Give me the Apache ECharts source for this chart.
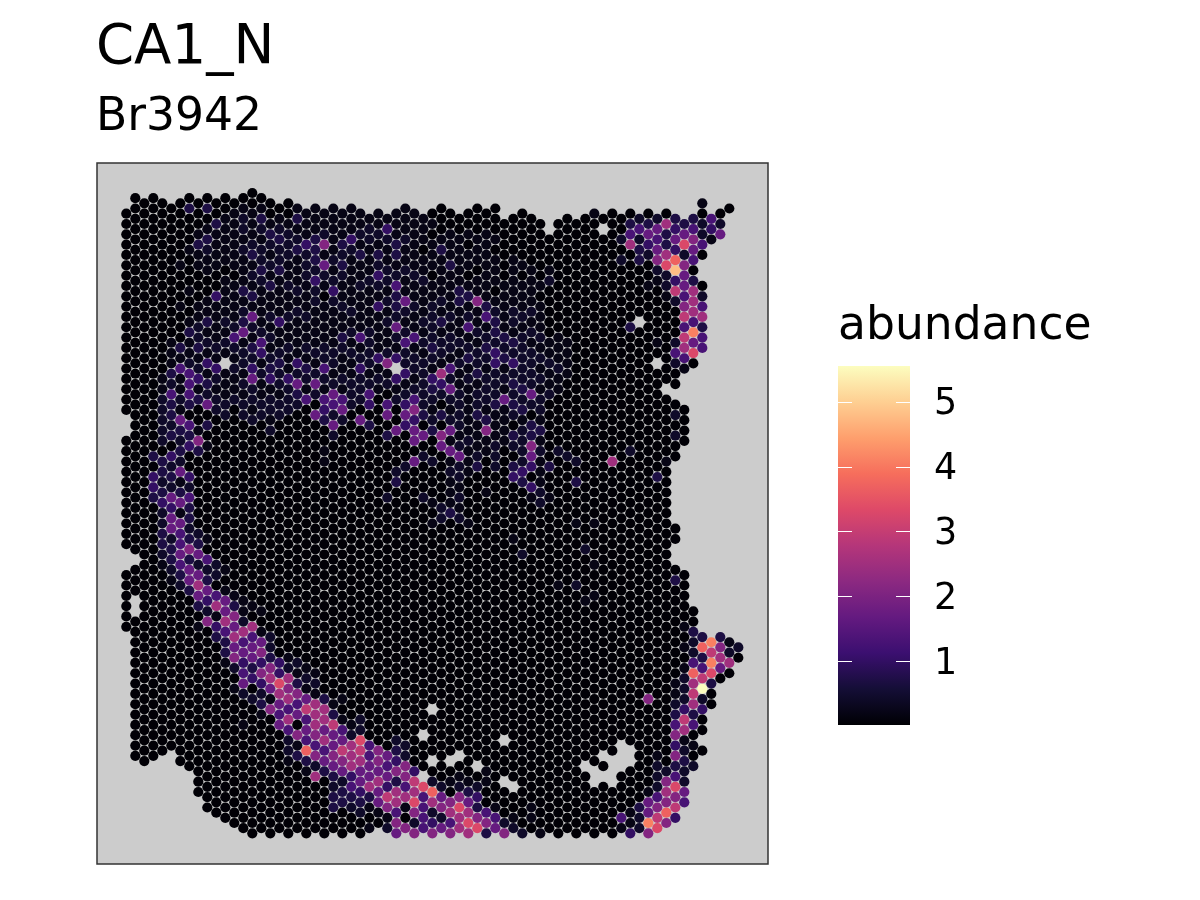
<!DOCTYPE html>
<html><head><meta charset="utf-8">
<style>html,body{margin:0;padding:0;background:#fff}#c{width:1200px;height:900px}</style>
<script src="https://cdn.jsdelivr.net/npm/echarts@6/dist/echarts.min.js"></script></head>
<body><div id="c"></div>
<script>
const titleText = "CA1_N";
const subtitleText = "Br3942";
const legendTitle = "abundance";
const legendTicks = [1,2,3,4,5];
const legendMin = 0.012, legendMax = 5.556;
const magma = ["#000004","#140e36","#3b0f70","#641a80","#8c2981","#b5367a","#de4968","#f66e5c","#fe9f6d","#fecf92","#fcfdbf"];

// abundance represented by each reading level (char in the spot tables below)
const levelValues = {0:0.03,1:0.2,2:0.42,3:0.7,4:1.0,5:1.3,6:1.7,7:2.1,8:2.5,9:2.9,a:3.3,b:3.7,c:4.1,d:4.8,e:5.55};

// spots present in each lattice column: [first,last] runs of lattice rows
const columnRuns = [
[[4,42],[48,68],[74,84]],[[1,69],[73,77],[83,109]],[[2,110]],[[1,109]],[[2,108]],[[3,107]],[[2,110]],[[1,111]],[[2,116]],[[1,119]],
[[2,120]],[[1,121]],[[2,122]],[[1,123]],[[0,124]],[[1,123]],[[2,124]],[[3,123]],[[2,124]],[[3,123]],
[[4,124]],[[3,123]],[[4,124]],[[3,123]],[[4,124]],[[3,123]],[[4,124]],[[5,123]],[[4,122]],[[5,123]],
[[4,124]],[[3,123]],[[4,124]],[[5,123]],[[4,124]],[[3,123]],[[4,124]],[[5,123]],[[4,124]],[[3,123]],
[[4,124]],[[3,123]],[[6,124]],[[5,123]],[[4,124]],[[5,123]],[[6,124]],[[9,123]],[[6,124]],[[5,123]],
[[6,124]],[[5,123]],[[4,124]],[[5,123]],[[4,124]],[[5,123]],[[4,124]],[[5,123]],[[4,124]],[[5,123]],
[[4,36],[40,122]],[[5,37],[41,51],[65,67],[73,121]],[[6,34],[42,48],[74,118]],[[5,33],[81,111]],
[[2,12],[18,30],[86,104],[108,108]],[[5,9],[87,99]],[[4,8],[86,94]],[[3,3],[87,93]],[[88,90]]
];
const missingSpots = [[11,33],[30,34],[53,7],[57,25],[59,33],[34,100],[33,105],[34,110],[33,113],[42,106],[37,109],[36,110],[39,111],[42,114],[43,115],[51,111],[52,112],[52,114],[53,109],[53,113],[54,110],[54,112],[54,114],[55,107],[55,109],[55,111],[56,108],[56,110]];

// faint readings: [column, first row, one level char per spot going down the column]
const faintColumns = [
[4,36,"11112"],[5,27,"0111121211"],[6,2,"0000001000100001111211212"],[7,3,"10001000100111122212"],
[8,2,"00011110001112112212"],[9,3,"10112110011212121121"],[10,2,"000111100111112112122"],[11,1,"0011111011112121211122"],
[12,2,"01111110111121212112"],[13,1,"0112121112121112212122"],[14,0,"00111221211112112222212"],[15,1,"0112122121111212121122"],
[16,2,"00112121211212121112212"],[17,3,"012222111112112122122"],[18,2,"001122112112112112222"],[19,3,"12122111212111112122"],
[20,4,"1112212111211212212"],[21,3,"1112122122111121212"],[22,4,"112111210111122221"],[23,3,"1111121212111122122"],
[24,4,"1112212112111211212"],[25,3,"11122111112121211222"],[26,4,"1121111211112121222"],[27,5,"112111211112222122"],
[28,4,"112112121211112121"],[29,5,"11211211212112112"],[30,4,"1112112121212111212"],[31,3,"1112112111212121212"],
[32,4,"1111112112112122122"],[33,5,"1110112111212122222"],[34,4,"010111011222122121212"],[35,3,"0001211112121221222"],
[36,4,"00111211112122112122"],[37,5,"0011111121112121122"],[38,4,"00101101111112212112"],[39,3,"00011101111121222122"],
[40,4,"0011111112112121222"],[41,3,"00010111012122222222"],[42,6,"0000001111112212122"],[43,5,"00001111122122212212"],
[44,4,"00000101112122222122"],[45,5,"0000011112121222222"],[46,6,"0000001011121212122"],[47,9,"0001000000112112"],
[48,26,"0111211"],[49,29,"1111"],[43,44,"2211212111"],[44,44,"1212211"],[45,44,"1121111"],[46,44,"11111112"],
[36,42,"1211212111"],[37,43,"2211112121"],[38,42,"1111111"],[39,43,"11111"],[40,42,"11211"],[41,43,"1112"],[42,42,"1111"]
];

const topLeftSpots = "7,3,3 9,3,3 10,6,3 15,5,3 13,5,2 19,5,3 29,7,4 27,7,2 22,10,7 20,10,4 24,10,3 25,9,4 26,12,3 28,12,3 30,10,3 30,12,3 14,12,3 8,10,3 9,9,3 16,8,3 17,9,3 18,8,2 21,9,3 19,11,3 21,11,3 21,13,3 22,14,6 20,14,2 24,14,3 15,15,3 17,15,3 28,16,4 21,17,4 16,18,3 29,17,2 30,18,5 23,19,4 10,20,4 13,19,3 14,20,3 30,20,3 31,21,6 28,22,4 30,22,3 14,24,6 13,25,3 17,25,4 9,25,3 30,26,6 13,27,6 12,28,5 15,29,5 32,28,5 31,29,5 26,28,5 24,28,3 7,27,3 8,26,2 6,30,3 8,30,3 14,30,3 15,31,4 9,33,4 6,34,5 10,34,4 7,35,5 5,35,3 14,34,4 8,36,4 7,37,5 9,37,3 14,36,6 16,36,4 16,34,3 17,33,3 19,33,4 20,34,3 22,34,5 18,36,4 19,37,6 21,37,6 20,40,5 23,39,6 22,40,5 24,40,5 24,42,6 26,34,4 28,32,4 29,33,7 30,32,4 30,36,4 31,35,4 31,33,2 34,36,4 26,39,4 27,39,5 27,41,4 29,41,5 32,40,5 32,42,7 31,41,4 29,43,6 31,43,6 5,39,5 7,39,5 9,41,6 8,40,3 5,41,3 4,40,2 7,41,3 6,41,3 23,41,5 21,43,6 22,42,4 19,39,3".split(" ");
const topMiddleSpots = "35,11,3 36,14,3 37,19,3 38,20,3 37,21,3 39,21,7 40,22,3 40,24,5 38,24,2 41,25,3 35,25,3 38,26,5 41,27,3 42,28,3 40,30,3 41,31,4 43,29,3 43,33,4 41,33,4 42,32,3 38,32,3 36,34,5 35,35,8 34,36,4 35,37,4 36,38,6 39,35,3 42,40,6 45,39,6 44,38,3 43,35,2 43,37,3 41,41,3 43,41,3 44,42,3 39,43,3 34,28,2 34,30,3 35,31,2 34,38,3 46,36,2 47,17,2 45,31,2 45,33,2".split(" ");
const topRightSpots = "56,6,3 56,8,5 56,10,8 55,9,2 55,13,2 57,5,2 57,7,5 57,9,2 57,11,3 57,13,3 58,6,3 58,8,6 58,10,4 58,12,2 59,5,2 59,7,6 59,9,5 59,11,6 59,13,7 59,15,2 60,6,8 60,8,3 60,10,3 60,12,8 60,14,a 60,16,2 60,18,2 61,5,3 61,7,4 61,9,6 61,11,4 61,13,b 61,15,d 61,17,4 61,19,9 61,21,2 62,6,3 62,8,6 62,10,a 62,12,2 62,14,7 62,16,6 62,18,6 62,20,5 62,22,7 62,24,9 62,26,5 62,28,9 62,30,8 62,32,5 62,34,1 61,29,2 61,31,5 61,33,2 63,5,3 63,7,5 63,9,7 63,11,6 63,13,5 63,17,3 63,19,8 63,21,8 63,23,8 63,25,5 63,27,c 63,29,6 63,31,a 64,2,1 64,6,2 64,8,2 64,10,5 64,20,2 64,22,5 64,24,8 64,26,3 64,28,5 64,30,5 65,5,5 65,7,4 65,9,1 66,6,2 66,8,6 60,20,1 59,17,1 58,18,1 56,26,3 59,29,1 52,4,1".split(" ");
const leftArcSpots = "4,42,2 5,43,3 6,44,6 7,45,5 6,46,3 7,47,3 8,48,7 9,45,3 8,46,1 5,45,2 4,46,2 4,48,2 5,47,3 6,48,2 7,49,4 6,50,3 8,50,3 9,49,1 5,51,4 3,51,3 4,52,3 6,52,2 5,53,2 6,54,6 4,54,3 3,55,4 5,55,3 7,55,4 4,56,2 6,56,1 3,57,4 5,57,2 7,57,2 4,58,3 6,58,3 3,59,3 5,59,6 7,59,5 4,60,4 6,60,6 5,61,4 7,61,3 4,62,2 6,62,1 5,63,6 7,63,3 4,64,2 6,64,6 5,65,6 7,65,2 4,66,3 6,66,5 8,66,2 5,67,2 7,67,3 9,67,1 4,68,3 6,68,5 8,68,3 5,69,3 7,69,7 4,70,2 6,70,6 8,70,6 9,71,5 5,71,3 7,71,3 4,72,1 6,72,5 8,72,2 10,72,2 5,73,2 7,73,6 9,73,2 11,73,1 6,74,3 8,74,6 10,74,2 5,75,1 7,75,6 9,75,3 8,76,8 6,76,2 7,77,3 9,77,6 11,77,1 8,78,6 10,78,5 12,78,1 9,79,4 11,79,6 13,79,1 8,80,3 10,80,8 12,80,3 14,80,1 9,81,2 11,81,6 13,81,1 15,81,1 9,83,7 10,82,1 12,82,7 11,83,8 13,83,2 8,84,1 10,84,4 12,84,6 14,84,8".split(" ");
const midBandSpots = "21,43,6 22,44,3 23,45,6 24,42,6 23,43,2 23,47,2 24,44,2 26,44,6 27,45,3 29,43,6 30,46,6 29,47,3 31,45,4 32,44,4 32,42,7 31,43,6 33,43,3 32,46,6 33,47,6 32,48,6 34,46,3 35,47,7 35,49,6 34,52,2 33,51,2 32,52,6 31,53,2 30,54,2 30,56,3 29,59,2 33,59,2 34,60,1 34,64,1 22,50,1 22,52,1 35,43,3 36,44,2 36,46,6 36,50,6 37,51,6 37,49,2 38,48,2 39,51,2 40,46,7 40,44,3 39,43,3 37,53,2 39,53,3 41,51,2 41,53,2 43,47,3 44,48,2 45,45,3 45,47,3 46,46,3 45,49,7 45,51,6 43,49,2 46,50,2 43,53,3 45,53,4 44,54,4 43,55,4 44,56,3 45,57,4 47,53,3 48,50,2 49,51,2 50,52,2 50,56,3 54,52,8 56,50,2 59,55,3 61,43,2 61,47,2 60,52,1 35,61,2 36,62,3 37,63,2 35,63,2 38,64,1 37,59,2 46,60,2 47,59,1 45,59,1 40,58,1 51,69,2 44,70,2 43,67,1 52,64,1 50,64,1 48,76,1 50,76,2 51,79,1 52,72,1 52,78,1 61,75,3 62,84,1".split(" ");
const lowerBandSpots = "12,86,8 13,85,8 14,86,5 15,85,1 16,86,2 11,85,5 10,86,3 11,87,3 12,88,6 13,87,5 14,88,6 15,87,6 16,88,2 11,89,3 12,90,7 13,89,6 14,90,6 15,89,7 16,90,3 17,91,4 15,91,4 13,91,4 18,92,2 19,91,2 12,92,2 14,92,3 16,92,7 13,93,5 15,93,7 17,93,4 19,93,1 20,92,1 21,93,1 14,94,4 16,94,8 18,94,8 20,94,2 13,95,6 15,95,4 17,95,a 19,95,3 21,95,2 12,96,1 16,96,6 18,96,7 20,96,1 13,97,2 15,97,2 17,97,8 19,97,7 21,97,1 14,98,2 16,98,1 18,98,8 20,98,6 22,98,3 15,99,3 17,99,6 19,99,5 21,99,8 23,99,1 16,100,7 18,100,5 20,100,9 22,100,8 24,98,1 15,101,1 17,101,5 19,101,6 21,101,8 23,101,3 24,102,1 26,102,2 18,102,8 20,102,5 22,102,8 17,103,6 19,103,0 21,103,8 23,103,9 25,103,1 13,103,1 26,104,2 18,104,5 20,104,6 22,104,6 24,104,5 19,105,7 21,105,7 23,105,6 25,105,2 18,106,2 20,106,5 22,106,8 24,106,6 26,106,a 28,105,1 30,106,2 19,107,1 21,107,5 23,107,6 25,107,8 27,107,5 18,108,2 20,108,b 22,108,5 24,108,9 26,108,9 28,108,7 30,108,3 31,107,2 19,109,3 21,109,7 23,109,7 25,109,8 27,109,5 29,109,6 31,109,2 18,110,1 20,110,3 22,110,6 24,110,7 26,110,8 28,110,7 30,110,4 21,111,2 23,111,6 25,111,8 27,111,6 29,111,5 31,111,7 20,112,1 22,112,3 24,112,6 26,112,6 28,112,6 30,112,7 32,112,4 21,113,8 23,113,3 25,113,4 27,113,6 29,113,6 31,113,7 24,114,2 26,114,6 28,114,8 30,114,3 32,114,9 23,115,2 25,115,5 27,115,8 29,115,4 31,115,5 33,115,a 24,116,3 26,116,4 28,116,6 30,116,8 32,116,8 34,116,b 23,117,3 25,117,3 27,117,3 29,117,9 31,117,8 33,117,5 24,118,3 26,118,3 28,118,6 30,118,8 32,118,a 34,118,8 23,119,3 25,119,2 27,119,1 29,119,7 31,119,1 33,119,5 26,120,2 28,120,1 30,120,5 32,120,7 34,120,2 29,121,1 31,121,0 33,121,5 30,122,7 32,122,2 34,122,4 27,123,1 29,123,2 31,123,7 33,123,5 30,124,6 32,124,7 34,124,7 18,90,1 11,91,1".split(" ");
const bottomSpots = "34,114,2 35,115,2 35,117,6 35,119,7 35,121,2 35,123,6 36,114,1 36,118,7 36,120,8 36,122,5 36,124,7 37,113,1 37,115,2 37,117,7 37,119,a 37,121,8 37,123,8 38,114,1 38,116,3 38,118,6 38,120,8 38,122,a 38,124,8 39,115,2 39,117,4 39,119,3 39,121,7 39,123,a 40,112,1 40,114,1 40,120,5 40,122,7 40,124,3 41,119,1 41,121,5 41,123,6 42,122,2 42,124,7 43,121,1 43,123,2 44,124,2 45,119,1 45,121,1 46,124,1 55,121,5 55,123,1 56,120,1 56,122,1 56,124,4 57,119,3 57,121,2 57,123,2 58,98,7 58,116,1 58,118,6 58,120,6 58,122,c 58,124,7 59,109,1 59,111,2 59,113,2 59,115,2 59,117,5 59,119,7 59,121,9 59,123,a 60,112,2 60,114,7 60,116,8 60,118,7 60,120,b 60,122,7 61,95,1 61,97,1 61,99,2 61,101,3 61,103,5 61,105,7 61,107,4 61,109,7 61,111,3 61,113,5 61,115,a 61,117,7 61,119,9 61,121,4".split(" ");
const rightLobeSpots = "62,88,1 62,92,1 62,94,2 62,96,2 62,98,2 62,100,4 62,102,9 62,104,8 62,106,1 62,108,2 62,110,3 62,112,2 62,114,2 62,116,6 62,118,5 63,85,3 63,87,2 63,89,2 63,91,5 63,93,b 63,95,8 63,97,9 63,99,8 63,101,3 63,103,5 63,107,1 63,111,2 64,86,3 64,88,b 64,90,3 64,92,5 64,94,9 64,96,e 64,98,2 64,100,4 65,87,c 65,89,9 65,91,c 65,93,a 65,95,3 66,86,3 66,88,7 66,90,8 66,92,6 67,87,1 67,89,2 67,91,8 68,88,2".split(" ");

const keyOf = (k,j) => k + ":" + j;
const levels = {};
faintColumns.forEach(([k,first,text]) => { [...text].forEach((ch,i) => { levels[keyOf(k,first+2*i)] = ch; }); });
[topLeftSpots,topMiddleSpots,topRightSpots,leftArcSpots,midBandSpots,lowerBandSpots,bottomSpots,rightLobeSpots].forEach(list => {
  list.forEach(item => { const [k,j,l] = item.split(","); levels[keyOf(+k,+j)] = l; });
});
const missing = new Set(missingSpots.map(([k,j]) => keyOf(k,j)));
const spots = [];
columnRuns.forEach((runs,k) => runs.forEach(([a,b]) => {
  for (let j=a; j<=b; j+=2) {
    if (missing.has(keyOf(k,j))) continue;
    spots.push([k,j,levelValues[levels[keyOf(k,j)] || "0"]]);
  }
}));

const font = "DejaVu Sans";
const chart = echarts.init(document.getElementById("c"), null, {renderer:"canvas", width:1200, height:900});
chart.setOption({
  animation:false,
  backgroundColor:"#ffffff",
  title:[
    {text:titleText,left:96,top:21,padding:0,textStyle:{fontFamily:font,fontSize:54.6,fontWeight:"normal",color:"#000"}},
    {text:subtitleText,left:96,top:95,padding:0,textStyle:{fontFamily:font,fontSize:45.6,fontWeight:"normal",color:"#000"}},
    {text:legendTitle,left:838,top:304,padding:0,textStyle:{fontFamily:font,fontSize:45.6,fontWeight:"normal",color:"#000"}}
  ],
  graphic:[{type:"rect",left:838,top:366,z:1,silent:true,shape:{x:0,y:0,width:72,height:359},
    style:{fill:new echarts.graphic.LinearGradient(0,1,0,0,magma.map((c,i)=>({offset:i/(magma.length-1),color:c})))}}],
  grid:[
    {left:97,top:163,width:671,height:701,show:true,backgroundColor:"#cccccc",borderColor:"#333333",borderWidth:1.5,containLabel:false},
    {left:838,top:366,width:72,height:359,show:false,containLabel:false},
    {left:838,top:369,width:72,height:359,show:false,containLabel:false}
  ],
  xAxis:[
    {type:"value",gridIndex:0,min:-3.2556,max:71.3,show:false},
    {type:"value",gridIndex:1,min:0,max:1,show:false},
    {type:"value",gridIndex:2,min:0,max:1,show:false}
  ],
  yAxis:[
    {type:"value",gridIndex:0,min:-5.81,max:129.94,inverse:true,show:false},
    {type:"value",gridIndex:1,position:"left",min:legendMin,max:legendMax,z:10,splitLine:{show:false},axisLine:{show:false},
     axisLabel:{show:false},axisTick:{show:true,inside:true,length:14,customValues:legendTicks,lineStyle:{color:"#ffffff",width:1}}},
    {type:"value",gridIndex:1,position:"right",min:legendMin,max:legendMax,z:10,splitLine:{show:false},axisLine:{show:false},
     axisLabel:{show:false},axisTick:{show:true,inside:true,length:14,customValues:legendTicks,lineStyle:{color:"#ffffff",width:1}}},
    {type:"value",gridIndex:2,position:"right",min:legendMin,max:legendMax,z:10,splitLine:{show:false},axisLine:{show:false},axisTick:{show:false},
     axisLabel:{show:true,inside:false,margin:24,customValues:legendTicks,fontFamily:font,fontSize:36.5,color:"#000",formatter:v=>String(v)}}
  ],
  visualMap:{type:"continuous",show:false,seriesIndex:0,dimension:2,min:legendMin,max:legendMax,inRange:{color:magma}},
  series:[{type:"scatter",xAxisIndex:0,yAxisIndex:0,data:spots,symbol:"circle",symbolSize:10.2,progressive:0,large:false,silent:true,clip:true,
    itemStyle:{opacity:1,borderWidth:0}}]
});
</script></body></html>
